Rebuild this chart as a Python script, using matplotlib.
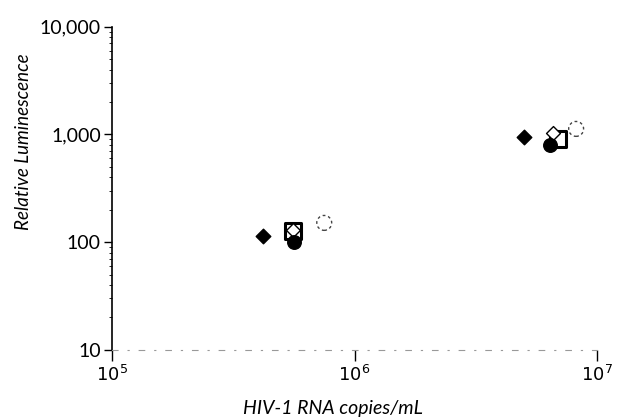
import matplotlib.pyplot as plt
from matplotlib.ticker import FixedLocator, FixedFormatter, NullFormatter, LogLocator

plt.rcParams['font.family'] = ['Lato', 'DejaVu Sans']

# copies/mL and relative luminescence, one list per sample series
diamond_x = [4.2e5, 5.0e6]
diamond_y = [114, 950]
square_x = [5.6e5, 6.9e6]
square_y = [127, 910]
open_diamond_x = [5.55e5, 6.6e6]
open_diamond_y = [130, 1035]
circle_x = [5.65e5, 6.4e6]
circle_y = [101, 800]
open_circle_x = [7.5e5, 8.2e6]
open_circle_y = [151, 1127]

y_ticks = [10, 100, 1000, 10000]
y_tick_labels = ['10', '100', '1,000', '10,000']
x_ticks = [1e5, 1e6, 1e7]
x_tick_labels = ['$10^5$', '$10^6$', '$10^7$']

fig = plt.figure(figsize=(6.34, 4.19), dpi=100)
ax = fig.add_axes([0.1767, 0.165, 0.765, 0.771])

ax.set_xscale('log')
ax.set_yscale('log')
ax.set_xlim(1e5, 1e7)
ax.set_ylim(10, 10000)

ax.scatter(diamond_x, diamond_y, marker='D', s=55, color='black', zorder=3)
ax.scatter(square_x, square_y, marker='s', s=120, facecolor='white',
           edgecolor='black', linewidth=2.2, zorder=3)
ax.scatter(open_diamond_x, open_diamond_y, marker='D', s=50, facecolor='white',
           edgecolor='black', linewidth=1.0, zorder=4)
ax.scatter(circle_x, circle_y, marker='o', s=95, color='black', zorder=5)
ax.scatter(open_circle_x, open_circle_y, marker='o', s=115, facecolor='none',
           edgecolor='#444444', linewidth=1.0, linestyle=(0, (2, 2)), zorder=3)

ax.spines['top'].set_visible(False)
ax.spines['right'].set_visible(False)
ax.spines['left'].set_linewidth(1.2)
# scanned x axis is only faintly visible
ax.spines['bottom'].set_color('#999999')
ax.spines['bottom'].set_linewidth(0.8)
ax.spines['bottom'].set_linestyle((0, (5, 9, 1, 9)))

ax.yaxis.set_major_locator(FixedLocator(y_ticks))
ax.yaxis.set_major_formatter(FixedFormatter(y_tick_labels))
ax.yaxis.set_minor_locator(LogLocator(base=10, subs=range(2, 10)))
ax.yaxis.set_minor_formatter(NullFormatter())
ax.xaxis.set_major_locator(FixedLocator(x_ticks))
ax.xaxis.set_major_formatter(FixedFormatter(x_tick_labels))
ax.xaxis.set_minor_locator(FixedLocator([]))

ax.tick_params(axis='y', which='major', direction='out', length=6, width=1, labelsize=14, pad=2)
ax.tick_params(axis='y', which='minor', direction='out', length=2, width=0.6)
ax.tick_params(axis='x', which='major', direction='out', length=8, width=1, labelsize=13, pad=2,
               color='black')

ax.set_ylabel('Relative Luminescence', fontsize=13.5, style='italic')
ax.yaxis.set_label_coords(-0.165, 0.645)
ax.set_xlabel('HIV-1 RNA copies/mL', fontsize=14, style='italic')
ax.xaxis.set_label_coords(0.455, -0.155)

fig.savefig('out.png', dpi=100)
